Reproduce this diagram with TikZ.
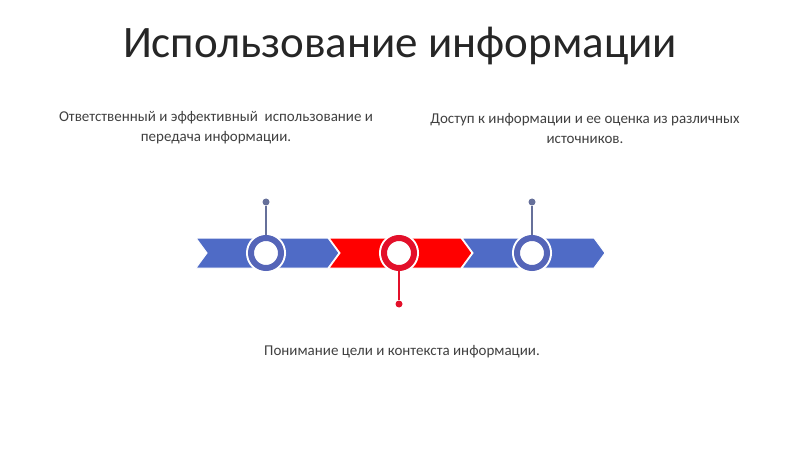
\documentclass[tikz,border=0pt]{standalone}
\usepackage{fontspec}
\setmainfont{Carlito}

\definecolor{bandblue}{HTML}{4F6BC6}
\definecolor{bandred}{HTML}{FF0000}
\definecolor{ringblue}{HTML}{5565B8}
\definecolor{ringred}{HTML}{E3102A}
\definecolor{stemblue}{HTML}{66709A}
\definecolor{textgrey}{HTML}{404040}

\tikzstyle{ring}=[circle, fill=white, draw=#1, line width=6pt, minimum size=30pt, inner sep=0pt, preaction={draw=white, line width=10pt}]
\tikzstyle{pin}=[circle, fill=#1, minimum size=7pt, inner sep=0pt]
\tikzstyle{stem}=[draw, line width=1.2pt]
\tikzstyle{caption}=[text=textgrey, align=center, font=\fontsize{15}{20}\selectfont]

\begin{document}
\begin{tikzpicture}[x=1pt, y=-1pt]
	    \useasboundingbox (0,0) rectangle (800,449);
	    \node[text=black!85, font=\fontsize{45}{50}\selectfont] (title) at (400,46) {Использование информации};
	    % chevron band
	    \foreach \x/\col in {196/bandblue, 329/bandred, 462/bandblue}
	        \path[fill=\col, draw=white, line width=1pt] (\x,238) -- ++(132,0) -- ++(11,15) -- ++(-11,15) -- ++(-132,0) -- ++(11,-15) -- cycle;
	    \foreach \pos/\name/\col in {{(266,253)/r1/ringblue}, {(399,253)/r2/ringred}, {(532,253)/r3/ringblue}}
	        \node[ring=\col] (\name) at \pos {};
	    \foreach \pos/\name/\col in {{(266,202)/p1/stemblue}, {(399,304)/p2/ringred}, {(532,202)/p3/stemblue}}
	        \node[pin=\col] (\name) at \pos {};
	    \foreach \source/\dest/\col in {p1/r1/stemblue, p2/r2/ringred, p3/r3/stemblue}
			\path[stem, \col] (\source) -- (\dest);
	    \node[caption] (left) at (216,128) {Ответственный и эффективный \ использование и\\передача информации.};
	    \node[caption] (right) at (585,128) {Доступ к информации и ее оценка из различных\\источников.};
	    \node[caption] (bottom) at (402,352) {Понимание цели и контекста информации.};
	\end{tikzpicture}
\end{document}
